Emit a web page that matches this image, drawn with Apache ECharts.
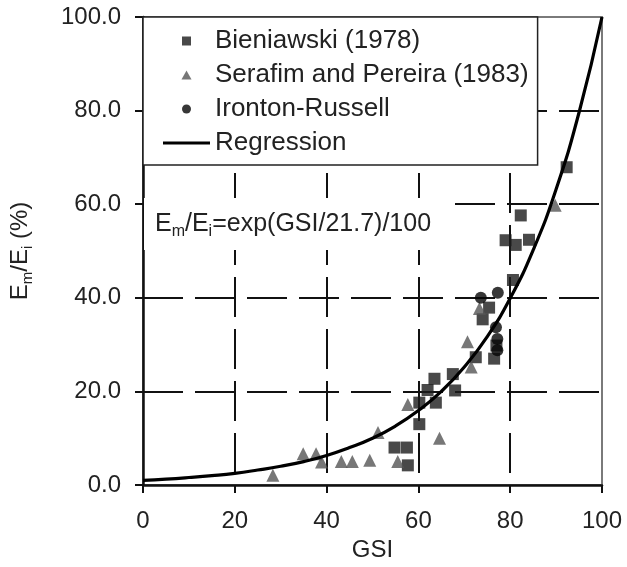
<!DOCTYPE html>
<html>
<head>
<meta charset="utf-8">
<script src="https://cdn.jsdelivr.net/npm/echarts@6/dist/echarts.min.js"></script>
<style>
html,body{margin:0;padding:0;background:#fff;}
#chart{width:627px;height:567px;}
</style>
</head>
<body>
<div id="chart"></div>
<script>
// ---- data ----
const xTicks = [0, 20, 40, 60, 80, 100];
const yTicks = [0, 20, 40, 60, 80, 100];

const bieniawski = [
  [54.8, 8.0], [57.5, 8.0], [57.7, 4.2], [60.2, 13.0], [60.2, 17.6], [62.0, 20.3],
  [63.5, 22.7], [63.8, 17.6], [67.5, 23.7], [68.0, 20.2], [72.5, 27.3], [74.0, 35.4],
  [75.4, 37.9], [76.5, 27.0], [77.0, 29.8], [80.6, 43.8], [79.0, 52.3], [81.2, 51.3],
  [84.1, 52.4], [82.3, 57.6], [92.3, 67.9]
];
const serafim = [
  [28.3, 2.1], [34.9, 6.7], [37.7, 6.7], [38.9, 4.9], [43.2, 5.0], [45.6, 5.0],
  [49.4, 5.3], [51.2, 11.2], [55.5, 5.0], [57.7, 17.2], [64.6, 10.0], [70.7, 30.6],
  [71.5, 25.2], [73.3, 37.7], [89.8, 59.8]
];
const ironton = [
  [73.6, 40.0], [77.3, 41.1], [76.9, 33.7], [77.2, 31.2], [77.2, 28.8]
];
const regressionGSI = [0, 5, 10, 15, 20, 25, 30, 35, 40, 45, 50, 55, 60, 65, 70, 75, 80, 85, 90, 95, 100];
const regressionEm  = [1.0, 1.26, 1.6, 2.0, 2.5, 3.2, 4.0, 5.0, 6.3, 8.0, 10.0, 12.6, 15.9, 20.0, 25.2, 31.7, 39.9, 50.2, 63.2, 79.6, 100.0];

const seriesNames = ['Bieniawski (1978)', 'Serafim and Pereira (1983)', 'Ironton-Russell', 'Regression'];
const annotationRich = '{n|E}{s|m}{n|/E}{s|i}{n|=exp(GSI/21.7)/100}';
const yName = '{n|E}{s|m}{n|/E}{s|i}{n| (%)}';

// legend icons: shapes centred inside a 47x12 box (corner moves keep the box size)
const BOX = 'M0 0 M47 12 ';
const legendIcons = [
  'path://' + BOX + 'M19 1.5 L28 1.5 L28 10.5 L19 10.5 Z',
  'path://' + BOX + 'M23.5 1.5 L28.5 10.5 L18.5 10.5 Z',
  'path://' + BOX + 'M19 6 A4.5 4.5 0 1 1 28 6 A4.5 4.5 0 1 1 19 6 Z',
  'path://' + BOX + 'M0 4.6 L47 4.6 L47 7.4 L0 7.4 Z'
];

const chart = echarts.init(document.getElementById('chart'), null, {renderer: 'canvas'});
const FONT = 'Liberation Sans, Arial, Helvetica, sans-serif';
const TXT = '#222';

const regression = regressionGSI.map((g, i) => [g, regressionEm[i]]);

const option = {
  backgroundColor: '#fff',
  animation: false,
  grid: {
    left: 142, right: 25, top: 17, bottom: 78.5,
    show: true, borderColor: '#7a7a7a', borderWidth: 2, backgroundColor: 'transparent'
  },
  xAxis: {
    type: 'value', min: xTicks[0], max: xTicks[xTicks.length - 1], interval: 20,
    name: 'GSI', nameLocation: 'middle', nameGap: 53,
    nameTextStyle: {fontSize: 24, color: TXT, fontFamily: FONT},
    axisLine: {show: true, onZero: false, lineStyle: {color: '#111', width: 2.5}},
    axisTick: {show: true, inside: false, length: 8, lineStyle: {color: '#111', width: 2}},
    axisLabel: {fontSize: 24, color: TXT, fontFamily: FONT, margin: 24,
      formatter: v => String(v)},
    splitLine: {show: true, showMinLine: false, showMaxLine: false,
      lineStyle: {color: '#111', width: 2, type: [40, 12]}}
  },
  yAxis: {
    type: 'value', min: yTicks[0], max: yTicks[yTicks.length - 1], interval: 20,
    name: yName, nameLocation: 'middle', nameGap: 108, nameRotate: 90,
    nameTextStyle: {
      fontFamily: FONT, color: TXT,
      rich: {
        n: {fontSize: 24, color: TXT, fontFamily: FONT, lineHeight: 30, verticalAlign: 'middle'},
        s: {fontSize: 15, color: TXT, fontFamily: FONT, lineHeight: 30, verticalAlign: 'bottom'}
      }
    },
    axisLine: {show: true, onZero: false, lineStyle: {color: '#111', width: 2.5}},
    axisTick: {show: true, inside: false, length: 8, lineStyle: {color: '#111', width: 2}},
    axisLabel: {fontSize: 24, color: TXT, fontFamily: FONT, margin: 22,
      formatter: v => v.toFixed(1)},
    splitLine: {show: true, showMinLine: false, showMaxLine: false,
      lineStyle: {color: '#111', width: 2, type: [40, 12]}}
  },
  legend: {
    orient: 'vertical', left: 143, top: 17,
    padding: [11, 9, 9, 20],
    itemWidth: 47, itemHeight: 12, itemGap: 8,
    backgroundColor: '#fff', borderColor: '#222', borderWidth: 1.5, borderRadius: 0,
    textStyle: {fontSize: 26, color: TXT, fontFamily: FONT, lineHeight: 24},
    data: seriesNames.map((n, i) => ({name: n, icon: legendIcons[i]})),
    z: 10
  },
  graphic: [
    {
      type: 'rect', z: 5, silent: true,
      shape: {x: 144, y: 198, width: 302, height: 52},
      style: {fill: '#fff'}
    },
    {
      type: 'text', z: 6, silent: true,
      x: 155, y: 224,
      style: {
        text: annotationRich,
        verticalAlign: 'middle', align: 'left',
        rich: {
          n: {fontSize: 25, fill: TXT, fontFamily: FONT, lineHeight: 32, verticalAlign: 'middle'},
          s: {fontSize: 16, fill: TXT, fontFamily: FONT, lineHeight: 32, verticalAlign: 'bottom'}
        }
      }
    }
  ],
  series: [
    {
      name: seriesNames[0], type: 'scatter', data: bieniawski,
      symbol: 'rect', symbolSize: 12, z: 3,
      itemStyle: {color: '#1c1c1c'}
    },
    {
      name: seriesNames[1], type: 'scatter', data: serafim,
      symbol: 'triangle', symbolSize: 13, z: 3,
      itemStyle: {color: '#555'}
    },
    {
      name: seriesNames[2], type: 'scatter', data: ironton,
      symbol: 'circle', symbolSize: 12, z: 3,
      itemStyle: {color: '#050505'}
    },
    {
      name: seriesNames[3], type: 'line', data: regression,
      symbol: 'none', smooth: true, z: 4,
      lineStyle: {color: '#000', width: 3.2},
      itemStyle: {color: '#000'}
    }
  ]
};
chart.setOption(option);
</script>
</body>
</html>
